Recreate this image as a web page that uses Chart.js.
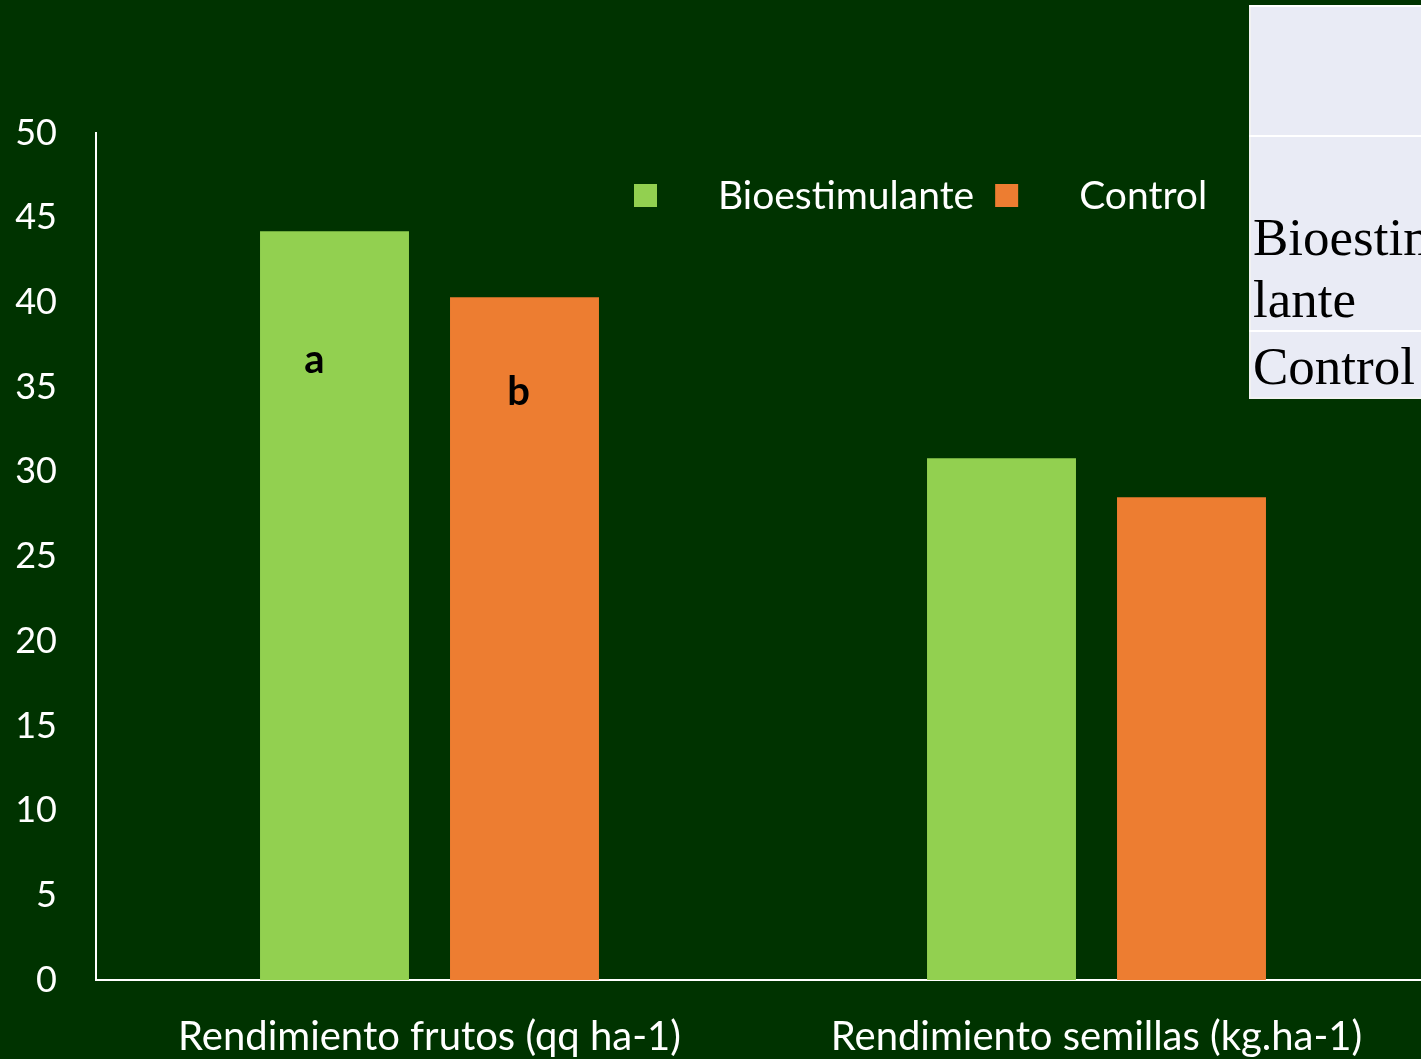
<!DOCTYPE html>
<html>
<head>
<meta charset="utf-8">
<script src="https://cdn.jsdelivr.net/npm/chart.js@4/dist/chart.umd.min.js"></script>
<style>
  html, body { margin: 0; padding: 0; background: #003300; overflow: hidden; width: 1421px; height: 1059px; }
  #wrap { position: absolute; left: 0; top: 0; width: 1430px; height: 1059px; }
  #sidebox { position: absolute; left: 1249px; top: 5px; width: 300px; }
  #side {
    table-layout: fixed; width: 236px;
    border-collapse: collapse; background: #E9EBF5;
    font-family: "Liberation Serif", "Times New Roman", serif; font-size: 53px; line-height: 62px; color: #000;
    border: 2px solid #F2F2F2;
  }
  #side td {
    padding: 0 2px; vertical-align: bottom;
    border-top: 2px solid #FFFFFF; word-break: break-all;
  }
</style>
</head>
<body>
<div id="wrap"><canvas id="c" width="1430" height="1059"></canvas></div>
<div id="sidebox">
<table id="side">
  <tr><td style="height:128px"></td></tr>
  <tr><td style="height:193px">Bioestimulante</td></tr>
  <tr><td style="height:65px">Control</td></tr>
</table>
</div>
<script>
// Yield categories and treatment series
const categories = ['Rendimiento frutos (qq ha-1)', 'Rendimiento semillas (kg.ha-1)'];
const bioestimulante = [44.2, 30.8];
const control = [40.3, 28.5];
const seriesNames = ['Bioestimulante', 'Control'];
const yTicks = [0, 5, 10, 15, 20, 25, 30, 35, 40, 45, 50];
// Significance letters per series (first category only)
const letters = [['a', ''], ['b', '']];

const GREEN = '#92D050';
const ORANGE = '#ED7D31';
const TEXT = '#FFFFFF';
const SANS = 'Lato, "Noto Sans", sans-serif';

// Legend drawn above the plot, boxes then labels
const legendPlugin = {
  id: 'topLegend',
  afterDraw(chart) {
    const ctx = chart.ctx;
    ctx.save();
    ctx.font = '39px ' + SANS;
    ctx.textBaseline = 'middle';
    let x = 634;
    const cy = 196;
    chart.data.datasets.forEach((ds) => {
      ctx.fillStyle = ds.backgroundColor;
      ctx.fillRect(x, cy - 12, 23, 23);
      ctx.fillStyle = TEXT;
      ctx.textAlign = 'left';
      ctx.fillText(ds.label, x + 84, cy);
      x += 84 + ctx.measureText(ds.label).width + 21;
    });
    ctx.restore();
  }
};

// Letters written inside the bars
const letterPlugin = {
  id: 'letters',
  afterDatasetsDraw(chart) {
    const ctx = chart.ctx;
    const y = chart.scales.y;
    const offsets = [[-20, 36.6], [-6, 34.7]];
    ctx.save();
    ctx.font = 'bold 40px ' + SANS;
    ctx.fillStyle = '#000000';
    ctx.textAlign = 'center';
    ctx.textBaseline = 'middle';
    chart.data.datasets.forEach((ds, di) => {
      const meta = chart.getDatasetMeta(di);
      letters[di].forEach((t, i) => {
        if (!t) return;
        const bar = meta.data[i];
        ctx.fillText(t, bar.x + offsets[di][0], y.getPixelForValue(offsets[di][1]));
      });
    });
    ctx.restore();
  }
};

new Chart(document.getElementById('c'), {
  type: 'bar',
  data: {
    labels: categories,
    datasets: [
      { label: seriesNames[0], data: bioestimulante, backgroundColor: GREEN },
      { label: seriesNames[1], data: control, backgroundColor: ORANGE }
    ]
  },
  options: {
    responsive: false,
    animation: false,
    events: [],
    categoryPercentage: 0.5697,
    barPercentage: 0.784,
    layout: { padding: { top: 133, left: 0, right: 0, bottom: 0 } },
    plugins: { legend: { display: false }, tooltip: { enabled: false } },
    scales: {
      x: {
        grid: { display: false, drawTicks: false },
        border: { display: true, color: '#FFFFFF', width: 2 },
        ticks: { color: TEXT, font: { size: 40, family: SANS }, padding: 33, maxRotation: 0 },
        afterFit(s) { s.height = 79; }
      },
      y: {
        min: 0, max: 50,
        afterBuildTicks(s) { s.ticks = yTicks.map(v => ({ value: v })); },
        grid: { display: false, drawTicks: false },
        border: { display: true, color: '#FFFFFF', width: 2 },
        ticks: { color: TEXT, font: { size: 36, family: SANS }, padding: 39 },
        afterFit(s) { s.width = 96; }
      }
    }
  },
  plugins: [legendPlugin, letterPlugin]
});
</script>
</body>
</html>
